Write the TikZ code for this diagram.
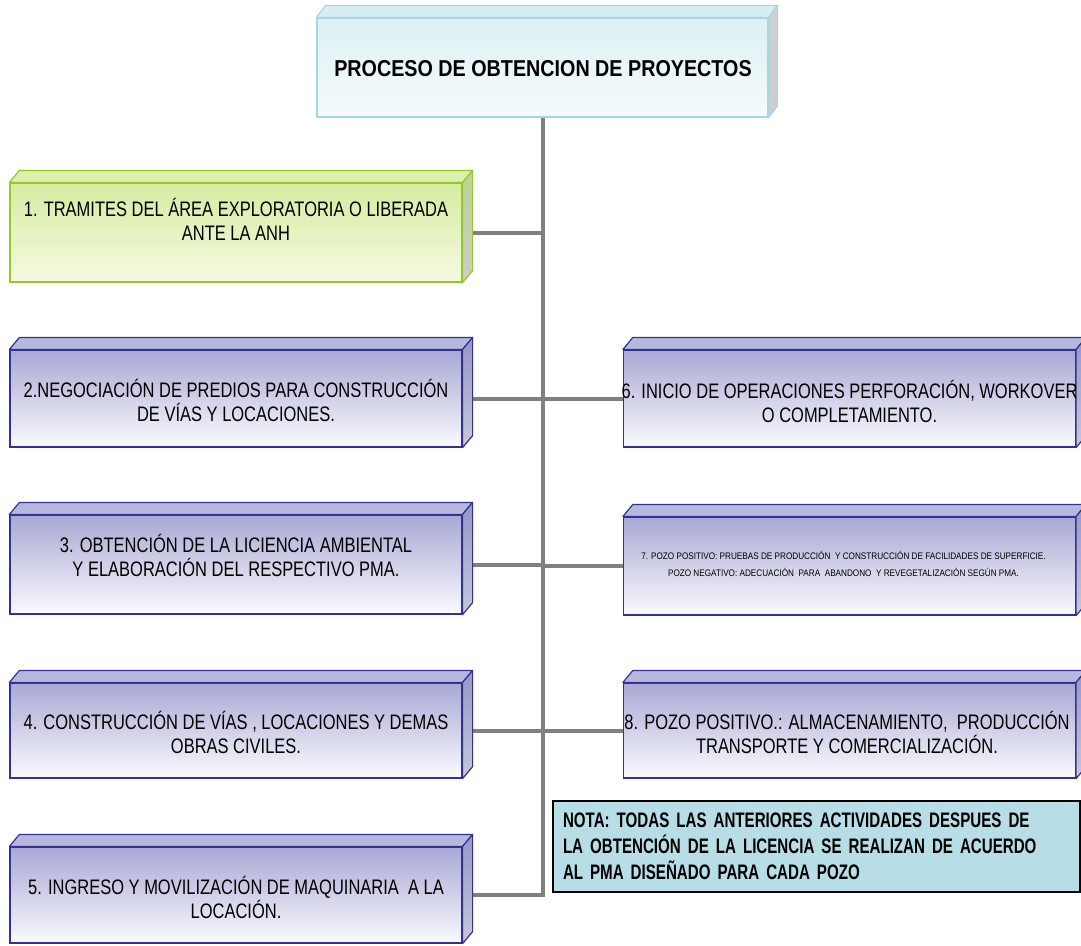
\documentclass[tikz,border=0pt]{standalone}
\usepackage{fontspec}
\setmainfont{Liberation Sans}[FakeStretch=0.785]
\newfontfamily\titlefont{Liberation Sans}[FakeStretch=0.858]
\newfontfamily\notefont{Liberation Sans}[FakeStretch=0.72]
\newfontfamily\smallfont{Liberation Sans}[FakeStretch=0.86]
\usetikzlibrary{backgrounds}
\definecolor{bluedraw}{RGB}{50,50,150}
\definecolor{bluegtop}{RGB}{168,168,212}
\definecolor{bluegbot}{RGB}{250,250,254}
\definecolor{bluetopface}{RGB}{184,184,222}
\definecolor{bluesidetop}{RGB}{150,150,196}
\definecolor{bluesidebot}{RGB}{200,200,214}
\definecolor{greendraw}{RGB}{150,200,40}
\definecolor{greengtop}{RGB}{214,236,160}
\definecolor{greengbot}{RGB}{244,250,226}
\definecolor{greentopface}{RGB}{222,240,176}
\definecolor{greensidetop}{RGB}{190,210,150}
\definecolor{greensidebot}{RGB}{205,205,205}
\definecolor{titledraw}{RGB}{168,214,222}
\definecolor{titlegtop}{RGB}{220,240,243}
\definecolor{titlegbot}{RGB}{246,251,252}
\definecolor{titletopface}{RGB}{214,237,241}
\definecolor{titlesidetop}{RGB}{200,210,212}
\definecolor{titlesidebot}{RGB}{205,205,205}
\definecolor{linkgray}{RGB}{128,128,128}
\definecolor{notefill}{RGB}{183,222,230}
\newcommand\cubefaces[7]{%
  \path[draw=#6,line width=1.2pt,line join=round,fill=#2]
    (#1.north west) -- ([shift={(#7,-12)}]#1.north west)
    -- ([shift={(#7,-12)}]#1.north east) -- (#1.north east) -- cycle;
  \path[draw=#6,line width=1.2pt,line join=round,top color=#3,bottom color=#4]
    (#1.north east) -- ([shift={(#7,-12)}]#1.north east)
    -- ([shift={(#7,-12)}]#1.south east) -- (#1.south east) -- cycle;}
\tikzset{
  front/.style={inner sep=0pt, line width=1.2pt, minimum width=452pt},
  bluebox/.style={front, draw=bluedraw, top color=bluegtop, bottom color=bluegbot},
  greenbox/.style={front, draw=greendraw, top color=greengtop, bottom color=greengbot},
  titlebox/.style={front, draw=titledraw, top color=titlegtop, bottom color=titlegbot, minimum width=451pt},
  txt/.style={align=center, inner sep=0pt, font=\fontsize{21}{24}\selectfont},
  smalltxt/.style={align=center, inner sep=0pt, font=\smallfont\fontsize{9.5}{17}\selectfont},
  link/.style={draw=linkgray, line width=4pt},
  notebox/.style={draw=black, line width=1.5pt, fill=notefill, inner xsep=10pt, inner ysep=0pt,
    text width=507pt, minimum height=91pt, align=left,
    font=\notefont\bfseries\fontsize{21}{26}\selectfont},
}
\begin{document}
\begin{tikzpicture}[x=1pt,y=-1pt]
\useasboundingbox (0,0) rectangle (1081,945);
% title
\node[titlebox, minimum height=99pt] (title) at (542.5,67.5) {};
\cubefaces{title}{titletopface}{titlesidetop}{titlesidebot}{}{titledraw}{9}
\node[txt, font=\titlefont\bfseries\fontsize{23}{26}\selectfont] (tt) at (543,69) {PROCESO DE OBTENCION DE PROYECTOS};
% left column
\node[greenbox, minimum height=99pt] (b1) at (236,232.5) {};
\cubefaces{b1}{greentopface}{greensidetop}{greensidebot}{}{greendraw}{10}
\node[txt] (t1) at (236,219) {1. TRAMITES DEL ÁREA EXPLORATORIA O LIBERADA\\ANTE LA ANH};
\node[bluebox, minimum height=97pt] (b2) at (236,398.5) {};
\cubefaces{b2}{bluetopface}{bluesidetop}{bluesidebot}{}{bluedraw}{10}
\node[txt] (t2) at (236,400) {2.NEGOCIACIÓN DE PREDIOS PARA CONSTRUCCIÓN\\DE VÍAS Y LOCACIONES.};
\node[bluebox, minimum height=99pt] (b3) at (236,564.5) {};
\cubefaces{b3}{bluetopface}{bluesidetop}{bluesidebot}{}{bluedraw}{10}
\node[txt] (t3) at (236,555) {3. OBTENCIÓN DE LA LICIENCIA AMBIENTAL\\Y ELABORACIÓN DEL RESPECTIVO PMA.};
\node[bluebox, minimum height=95pt] (b4) at (236,730.5) {};
\cubefaces{b4}{bluetopface}{bluesidetop}{bluesidebot}{}{bluedraw}{10}
\node[txt] (t4) at (236,732) {4. CONSTRUCCIÓN DE VÍAS , LOCACIONES Y DEMAS\\OBRAS CIVILES.};
\node[bluebox, minimum height=96pt] (b5) at (236,895) {};
\cubefaces{b5}{bluetopface}{bluesidetop}{bluesidebot}{}{bluedraw}{10}
\node[txt] (t5) at (236,897) {5. INGRESO Y MOVILIZACIÓN DE MAQUINARIA\ \ A LA\\LOCACIÓN.};
% right column
\node[bluebox, minimum height=97pt] (b6) at (849.5,398.5) {};
\cubefaces{b6}{bluetopface}{bluesidetop}{bluesidebot}{}{bluedraw}{10}
\node[txt] (t6) at (849.5,401) {6. INICIO DE OPERACIONES PERFORACIÓN, WORKOVER\\O COMPLETAMIENTO.};
\node[bluebox, minimum height=98pt] (b7) at (849.5,566) {};
\cubefaces{b7}{bluetopface}{bluesidetop}{bluesidebot}{}{bluedraw}{10}
\node[smalltxt] (t7) at (843.5,563.5) {7. POZO POSITIVO: PRUEBAS DE PRODUCCIÓN\ \ Y CONSTRUCCIÓN DE FACILIDADES DE SUPERFICIE.\\POZO NEGATIVO: ADECUACIÓN\ \ PARA\ \ ABANDONO\ \ Y REVEGETALIZACIÓN SEGÚN PMA.};
\node[bluebox, minimum height=95pt] (b8) at (849.5,730.5) {};
\cubefaces{b8}{bluetopface}{bluesidetop}{bluesidebot}{}{bluedraw}{10}
\node[txt] (t8) at (847,732.5) {8. POZO POSITIVO.: ALMACENAMIENTO,\ \ PRODUCCIÓN\\TRANSPORTE Y COMERCIALIZACIÓN.};
% note
\node[notebox] (note) at (816.5,846.5) {NOTA: TODAS LAS ANTERIORES ACTIVIDADES DESPUES DE\\LA OBTENCIÓN DE LA LICENCIA SE REALIZAN DE ACUERDO\\AL PMA DISEÑADO PARA CADA POZO};
% connectors
\begin{pgfonlayer}{background}
\coordinate (spinebot) at (b5 -| title.south);
\draw[link] (title.south) -- (spinebot);
\draw[link] (b1) -- (b1 -| title.south);
\draw[link] (b2) -- (b2 -| title.south);
\draw[link] (b3) -- (b3 -| title.south);
\draw[link] (b4) -- (b4 -| title.south);
\draw[link, line cap=rect] (b5) -- (spinebot);
\draw[link] (b6) -- (b6 -| title.south);
\draw[link] (b7) -- (b7 -| title.south);
\draw[link] (b8) -- (b8 -| title.south);
\end{pgfonlayer}
\end{tikzpicture}
\end{document}
